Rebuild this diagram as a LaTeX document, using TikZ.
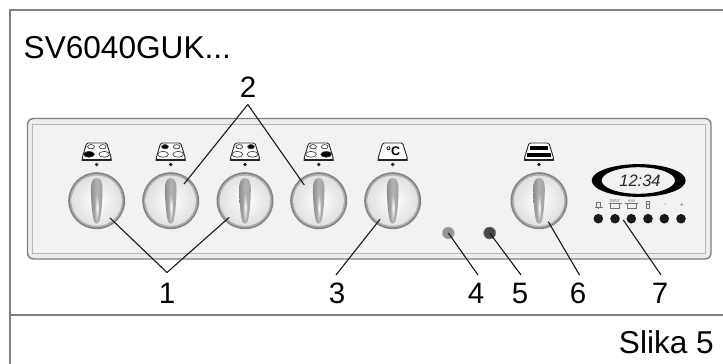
\documentclass[tikz,border=0pt]{standalone}
\usepackage{fontspec}
\setmainfont{Liberation Sans}
\tikzset{
  leader/.style={draw=black!90,line width=1.1pt},
  numlabel/.style={font=\fontsize{29.5}{31}\selectfont,inner sep=0pt,anchor=base},
  bigtext/.style={font=\fontsize{31.6}{33}\selectfont,inner sep=0pt},
  led/.style={circle,inner sep=0pt,minimum size=9.6pt,fill=black!90},
  tinylabel/.style={font=\fontsize{4.5}{5}\selectfont,text=black!55,inner sep=0pt},
  tray/.style={draw=black!85,line width=.9pt,fill=white,line join=round,rounded corners=1.5pt},
  band/.style={draw=black!85,line width=1.8pt,line cap=round},
  ring/.style={draw=black!75,line width=.7pt},
  minicon/.style={draw=black!55,line width=.7pt},
}
\definecolor{framegray}{HTML}{808080}
\newcommand{\knob}[2]{%
  \node[circle,inner sep=0pt,minimum size=57pt,fill=black!48] (#2) at (#1,200.7) {};
  \fill[black!32] (#1,200.7) circle (26.8pt);
  \shade[inner color=white,outer color=black!12] (#1,200.7) circle (25.2pt);
  \begin{scope}[shift={(#1,200.7)}]
    \shade[left color=black!45,right color=black!38,middle color=black!30]
      (0,-22.6) .. controls (4.5,-22.6) and (6,-18) .. (5.8,-10)
      .. controls (5.6,2) and (4.5,14) .. (2.8,20)
      .. controls (1.8,24) and (-1.8,24) .. (-2.8,20)
      .. controls (-4.5,14) and (-5.6,2) .. (-5.8,-10)
      .. controls (-6,-18) and (-4.5,-22.6) .. (0,-22.6) -- cycle;
    \shade[inner color=white,outer color=black!30] (.3,7) ellipse (2pt and 14pt);
  \end{scope}
  \fill[black!90] (#1,164.5) circle (1.8pt);
}
\newcommand{\trayshape}{%
  \draw[tray] (-10,-17) -- (10,-17) -- (15,-.5) -- (-15,-.5) -- cycle;
  \draw[band] (-14.5,-.3) -- (14.5,-.3);
}
\newcommand{\hob}[5]{%
  \begin{scope}[shift={(#1,160)}]
    \trayshape
    \draw[ring,fill=#2] (-5.7,-13.3) ellipse (3.4pt and 2.1pt);
    \draw[ring,fill=#3] (6,-13.3) ellipse (3.4pt and 2.1pt);
    \draw[ring,fill=#4] (-7.7,-5.7) ellipse (5.4pt and 2.9pt);
    \draw[ring,fill=#5] (7.5,-5.7) ellipse (5.4pt and 2.9pt);
  \end{scope}
}
\begin{document}
\begin{tikzpicture}[x=1pt,y=-1pt]
\useasboundingbox (0,0) rectangle (723,364);
\fill[white] (0,0) rectangle (723,364);
% frame
\draw[framegray,line width=2pt] (723,10) -- (10,10) -- (10,364);
\draw[framegray,line width=2pt] (10,315) -- (723,315);
% panel
\draw[black!50,line width=1.4pt,fill=black!7,rounded corners=6pt] (27.5,118.5) rectangle (711,259);
\draw[black!28,line width=.9pt,fill=black!5] (32.5,124.5) rectangle (705.5,253);
% texts
\node[bigtext,anchor=base west] (title) at (23.5,58) {SV6040GUK...};
\node[bigtext,anchor=base east] (slika) at (714,353) {Slika 5};
% knobs
\knob{96.7}{k1}\knob{170.7}{k2}\knob{245}{k3}\knob{318.7}{k4}\knob{392.7}{k5}\knob{539}{k6}
% icons
\hob{96.7}{white}{white}{black}{white}
\hob{170.7}{black}{white}{white}{white}
\hob{245}{white}{black}{white}{white}
\hob{318.7}{white}{white}{white}{black}
\begin{scope}[shift={(392.7,160)}]
  \trayshape
  \node[inner sep=0pt,font=\fontsize{12.5}{13}\selectfont\bfseries] (deg) at (.5,-8.5) {°C};
\end{scope}
\begin{scope}[shift={(539,160)}]
  \trayshape
  \fill[black] (-9,-14.5) rectangle (9,-10.3);
  \fill[black] (-12,-7) rectangle (12,-2.8);
\end{scope}
% lamps
\node[circle,inner sep=0pt,minimum size=12pt,fill=black!42,draw=black!25,line width=.6pt] (l4) at (448.3,233) {};
\node[circle,inner sep=0pt,minimum size=12pt,fill=black!72,draw=black!50,line width=.6pt] (l5) at (489.7,233) {};
% clock
\fill[black,even odd rule] (638.7,180.5) ellipse (47pt and 16.4pt) (638.3,180.5) ellipse (36.7pt and 13.3pt);
\node[font=\fontsize{16.5}{17}\selectfont\itshape,text=black!85,inner sep=0pt] (clock) at (640,181) {12:34};
% buttons
\node[led] (b1) at (598.3,218.7) {};
\node[led] (b2) at (615,218.7) {};
\node[led] (b3) at (631.3,218.7) {};
\node[led] (b4) at (648,218.7) {};
\node[led] (b5) at (664.3,218.7) {};
\node[led] (b6) at (681,218.7) {};
% button icons
\draw[minicon] (596.5,202.5) rectangle (600.5,207) (594.5,207.5) -- (602.5,207.5) (598.3,207.5) -- (598.3,209);
\draw[minicon] (610.5,203.5) rectangle (619.5,208.5) (608.5,203.5) -- (621.5,203.5);
\draw[minicon] (627,203.5) rectangle (636,208.5) (625,203.5) -- (638,203.5);
\draw[minicon,line width=1pt] (646.5,201) rectangle (649.5,208) (646.5,204.5) -- (649.5,204.5);
\node[tinylabel] (mx) at (615,200.5) {MAX};
\node[tinylabel] (mn) at (631.5,200.5) {min};
\node[tinylabel,font=\fontsize{7}{7}\selectfont] (mi) at (665,205.5) {-};
\node[tinylabel,font=\fontsize{7}{7}\selectfont] (pl) at (682,205.5) {+};
% numbers
\node[numlabel] (n1) at (167,303) {1};
\node[numlabel] (n2) at (248,97) {2};
\node[numlabel] (n3) at (337,303) {3};
\node[numlabel] (n4) at (476,303) {4};
\node[numlabel] (n5) at (520,303) {5};
\node[numlabel] (n6) at (578,303) {6};
\node[numlabel] (n7) at (660,303) {7};
% leader junctions and targets
\coordinate (j1) at (167,272.5);
\coordinate (j2) at (247.8,104.5);
\coordinate (t1a) at (110,218);
\coordinate (t1b) at (229.3,217.3);
\coordinate (t2a) at (184,184);
\coordinate (t2b) at (304.3,185);
\coordinate (t3) at (380,219.3);
\coordinate (t6) at (548.3,221.7);
\coordinate (t7) at (623.3,220);
\coordinate (j3) at (336,275);
\coordinate (j4) at (478,275);
\coordinate (j5) at (521,275);
\coordinate (j6) at (579.5,275);
\coordinate (j7) at (661,275);
\draw[leader] (j1) -- (t1a);
\draw[leader] (j1) -- (t1b);
\draw[leader] (j2) -- (t2a);
\draw[leader] (j2) -- (t2b);
\draw[leader] (j3) -- (t3);
\draw[leader] (j4) -- (l4.center);
\draw[leader] (j5) -- (l5.center);
\draw[leader] (j6) -- (t6);
\draw[leader] (j7) -- (t7);
\end{tikzpicture}
\end{document}
